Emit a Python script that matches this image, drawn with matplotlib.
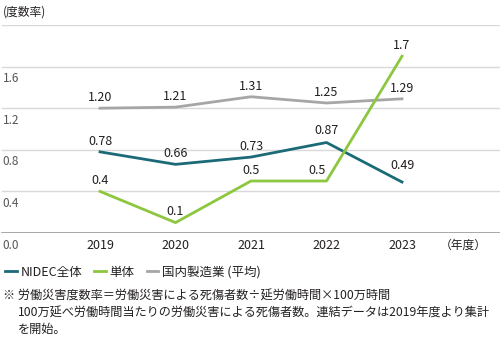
import matplotlib.pyplot as plt

plt.rcParams['font.family'] = ['Noto Sans CJK JP', 'DejaVu Sans']

years = [2019, 2020, 2021, 2022, 2023]
nidec = [0.78, 0.66, 0.73, 0.87, 0.49]
single = [0.4, 0.1, 0.5, 0.5, 1.7]
domestic = [1.20, 1.21, 1.31, 1.25, 1.29]
nidec_labels = ['0.78', '0.66', '0.73', '0.87', '0.49']
single_labels = ['0.4', '0.1', '0.5', '0.5', '1.7']
domestic_labels = ['1.20', '1.21', '1.31', '1.25', '1.29']
y_ticks = [0.0, 0.4, 0.8, 1.2, 1.6]
y_tick_labels = ['0.0', '0.4', '0.8', '1.2', '1.6']

c_nidec = '#1b6a78'
c_single = '#8dc63f'
c_dom = '#a6a6a6'
c_text = '#231f20'

fig = plt.figure(figsize=(5, 3.39), dpi=100)
ax = fig.add_axes([0, 0.3127, 1, 0.6136])
ax.set_xlim(2017.675, 2024.298)
ax.set_ylim(0, 2.0)
ax.axis('off')

# grid
for g in [0.4, 0.8, 1.2, 1.6, 2.0]:
    ax.axhline(g, xmin=0.004, xmax=1, color='#d9d9d9', lw=1.0, zorder=0)
ax.axhline(0, xmin=0.004, xmax=1, color='#9a9a9a', lw=1.2, zorder=0)

for v, t in zip(y_ticks, y_tick_labels):
    ax.annotate(t, (0, v), xycoords=('axes fraction', 'data'), xytext=(2, -4),
                textcoords='offset points', ha='left', va='top', fontsize=8.5, color='#555555')

for y in years:
    ax.annotate(str(y), (y, 0), xytext=(0, -4), textcoords='offset points',
                ha='center', va='top', fontsize=9, color=c_text)
ax.annotate('（年度）', (2023.5, 0), xytext=(0, -4), textcoords='offset points',
            ha='left', va='top', fontsize=8.5, color=c_text)

l_dom, = ax.plot(years, domestic, color=c_dom, lw=2, label='国内製造業 (平均)', zorder=2)
l_nidec, = ax.plot(years, nidec, color=c_nidec, lw=2, label='NIDEC全体', zorder=3)
l_single, = ax.plot(years, single, color=c_single, lw=2, label='単体', zorder=4)

def label_series(xs, ys, labels, offsets):
    for x, y, t, off in zip(xs, ys, labels, offsets):
        ax.annotate(t, (x, y), xytext=off, textcoords='offset points',
                    ha='center', va='bottom', fontsize=9, color=c_text)

label_series(years, domestic, domestic_labels, [(0, 3)] * 5)
label_series(years, nidec, nidec_labels, [(0, 3), (0, 3), (0, 3), (0, 4), (0, 7)])
label_series(years, single, single_labels, [(0, 3), (0, 3), (0, 3), (-7, 3), (0, 3)])

fig.text(0.006, 0.965, '(度数率)', ha='left', va='center', fontsize=8.5, color=c_text)

fig.legend(handles=[l_nidec, l_single, l_dom], loc='center left',
           bbox_to_anchor=(-0.012, 0.197), ncol=3, frameon=False, fontsize=9,
           handlelength=0.9, handletextpad=0.3, columnspacing=1.0, labelcolor=c_text)

fig.text(0.006, 0.127, '※ 労働災害度数率＝労働災害による死傷者数÷延労働時間×100万時間',
         ha='left', va='center', fontsize=8.75, color=c_text)
fig.text(0.036, 0.077, '100万延べ労働時間当たりの労働災害による死傷者数。連結データは2019年度より集計',
         ha='left', va='center', fontsize=8.75, color=c_text)
fig.text(0.036, 0.027, 'を開始。', ha='left', va='center', fontsize=8.75, color=c_text)

fig.savefig('out.png', dpi=100)
